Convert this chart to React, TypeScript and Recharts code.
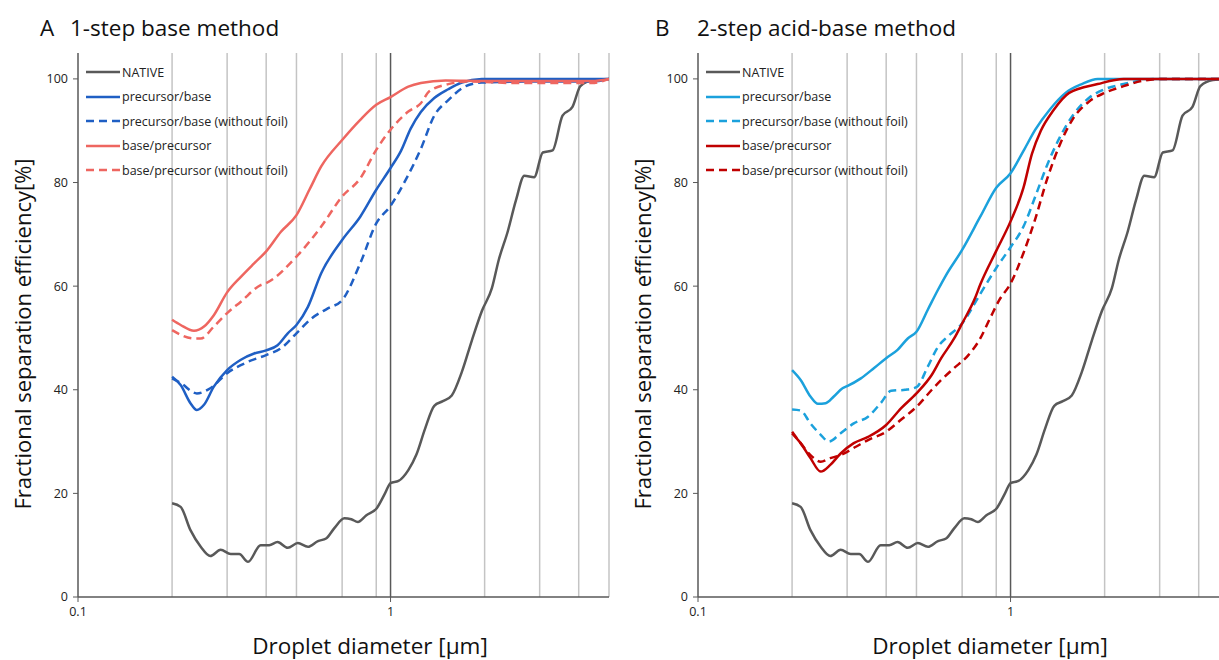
import React from "react";
import {
  LineChart,
  Line,
  XAxis,
  YAxis,
  CartesianGrid,
  ReferenceLine,
} from "recharts";

type Pt = [number, number];

// axis values
const xTicks = [0.1, 1];
const yTicks = [0, 20, 40, 60, 80, 100];
const gridX = [0.2, 0.3, 0.4, 0.5, 0.6, 0.7, 0.8, 0.9, 2, 3, 4, 5];

// droplet diameter [µm], efficiency [%]
const native: Pt[] = [
  [0.2, 18.1], [0.213, 17.4], [0.229, 12.9], [0.247, 9.7], [0.265, 7.9],
  [0.286, 9.1], [0.308, 8.3], [0.328, 8.3], [0.35, 6.8], [0.384, 10.0],
  [0.409, 10.0], [0.435, 10.6], [0.469, 9.5], [0.505, 10.4], [0.544, 9.7],
  [0.586, 10.8], [0.622, 11.3], [0.661, 13.3], [0.712, 15.2], [0.749, 15.0],
  [0.786, 14.5], [0.837, 15.8], [0.902, 17.1], [0.96, 20.0], [1.0, 22.0],
  [1.06, 22.4], [1.14, 24.5], [1.21, 27.5], [1.29, 32.5], [1.38, 36.9],
  [1.47, 37.8], [1.57, 38.9], [1.69, 43.4], [1.82, 49.5], [1.96, 55.2],
  [2.11, 59.6], [2.22, 65.1], [2.37, 70.5], [2.52, 76.6], [2.68, 81.3],
  [2.88, 81.0], [3.07, 85.8], [3.3, 86.2], [3.55, 92.9], [3.82, 94.6],
  [4.05, 98.6], [4.44, 99.8], [5.0, 100],
];

// A: 1-step base method
const precBaseA: Pt[] = [
  [0.2, 42.5], [0.213, 40.9], [0.229, 37.4], [0.24, 36.1], [0.253, 37.1],
  [0.272, 40.6], [0.3, 43.8], [0.332, 45.8], [0.366, 47.0], [0.4, 47.6],
  [0.435, 48.6], [0.469, 50.9], [0.5, 52.5], [0.544, 56.0], [0.6, 62.5],
  [0.7, 68.9], [0.8, 73.4], [0.9, 78.6], [1.0, 82.8], [1.08, 86.1],
  [1.16, 90.4], [1.25, 93.6], [1.38, 96.3], [1.53, 98.0], [1.69, 99.3],
  [1.96, 100], [3, 100], [5, 100],
];
const precBaseNoFoilA: Pt[] = [
  [0.2, 42.2], [0.213, 41.3], [0.24, 39.3], [0.265, 40.3], [0.3, 43.2],
  [0.35, 45.4], [0.4, 46.7], [0.446, 48.0], [0.5, 50.9], [0.56, 53.8],
  [0.63, 55.7], [0.7, 57.3], [0.8, 64.4], [0.9, 72.1], [1.0, 75.5],
  [1.12, 80.6], [1.25, 86.5], [1.38, 92.9], [1.53, 95.9], [1.74, 98.6],
  [1.96, 99.3], [3, 99.5], [4.4, 99.5], [5, 100],
];
const basePrecA: Pt[] = [
  [0.2, 53.5], [0.213, 52.5], [0.235, 51.4], [0.253, 52.2], [0.272, 54.4],
  [0.3, 58.8], [0.332, 61.8], [0.366, 64.4], [0.4, 66.7], [0.446, 70.5],
  [0.5, 73.7], [0.55, 78.6], [0.6, 83.1], [0.7, 88.2], [0.8, 92.1],
  [0.9, 95.0], [1.0, 96.5], [1.14, 98.5], [1.25, 99.2], [1.5, 99.7],
  [2, 99.6], [3, 99.6], [4.4, 99.6], [5, 100],
];
const basePrecNoFoilA: Pt[] = [
  [0.2, 51.5], [0.235, 49.9], [0.247, 49.9], [0.272, 52.2], [0.3, 54.8],
  [0.332, 57.0], [0.384, 60.2], [0.4, 60.6], [0.5, 65.7], [0.6, 71.5],
  [0.7, 77.3], [0.8, 80.8], [0.9, 86.3], [1.0, 90.2], [1.14, 93.7],
  [1.25, 95.3], [1.33, 97.6], [1.53, 99.0], [1.77, 99.5], [2.5, 99.2],
  [4.4, 99.2], [5, 100],
];

// B: 2-step acid-base method
const precBaseB: Pt[] = [
  [0.2, 43.8], [0.213, 41.9], [0.229, 38.7], [0.242, 37.3], [0.256, 37.4],
  [0.272, 38.7], [0.29, 40.3], [0.3, 40.7], [0.332, 42.2], [0.366, 44.2],
  [0.4, 46.1], [0.435, 47.7], [0.469, 49.9], [0.5, 51.2], [0.544, 55.5],
  [0.586, 59.3], [0.62, 62.0], [0.7, 67.0], [0.8, 73.4], [0.9, 79.0],
  [1.0, 81.8], [1.1, 86.1], [1.2, 90.2], [1.34, 94.2], [1.5, 97.3],
  [1.69, 99.0], [1.9, 100], [5, 100],
];
const precBaseNoFoilB: Pt[] = [
  [0.2, 36.2], [0.213, 36.0], [0.229, 33.5], [0.247, 31.3], [0.262, 30.0],
  [0.286, 31.6], [0.315, 33.5], [0.35, 34.8], [0.384, 37.4], [0.415, 39.8],
  [0.46, 40.0], [0.5, 40.5], [0.544, 44.5], [0.586, 48.3], [0.63, 50.3],
  [0.7, 52.8], [0.8, 58.5], [0.9, 63.5], [1.0, 67.5], [1.1, 71.5],
  [1.2, 77.3], [1.31, 83.4], [1.44, 88.8], [1.58, 92.9], [1.78, 96.3],
  [2.0, 98.0], [2.3, 99.0], [2.68, 99.8], [3, 100], [5, 100],
];
const basePrecB: Pt[] = [
  [0.2, 31.6], [0.213, 29.7], [0.229, 26.8], [0.247, 24.2], [0.265, 25.5],
  [0.286, 27.7], [0.315, 29.7], [0.35, 30.9], [0.4, 33.2], [0.446, 36.4],
  [0.5, 39.3], [0.56, 42.9], [0.6, 46.1], [0.66, 49.9], [0.7, 52.8],
  [0.77, 57.7], [0.8, 60.3], [0.9, 66.8], [1.0, 72.5], [1.1, 79.0],
  [1.17, 85.5], [1.25, 90.0], [1.37, 93.9], [1.54, 97.3], [1.9, 99.0],
  [2.3, 100], [5, 100],
];
const basePrecNoFoilB: Pt[] = [
  [0.2, 31.9], [0.213, 29.7], [0.229, 27.4], [0.247, 26.1], [0.265, 26.8],
  [0.286, 27.4], [0.32, 29.0], [0.35, 30.3], [0.4, 31.9], [0.446, 34.2],
  [0.5, 36.7], [0.56, 40.0], [0.6, 41.9], [0.66, 44.2], [0.726, 46.4],
  [0.8, 49.9], [0.86, 53.8], [0.92, 57.3], [1.0, 60.5], [1.1, 66.4],
  [1.2, 73.0], [1.31, 80.7], [1.44, 87.4], [1.58, 92.2], [1.78, 95.6],
  [2.0, 97.3], [2.3, 98.6], [2.68, 99.7], [3, 100], [5, 100],
];

type Series = { name: string; pts: Pt[]; color: string; dashed: boolean };

const GRAY = "#595959";

const seriesA: Series[] = [
  { name: "NATIVE", pts: native, color: GRAY, dashed: false },
  { name: "precursor/base", pts: precBaseA, color: "#1f5fc4", dashed: false },
  { name: "precursor/base (without foil)", pts: precBaseNoFoilA, color: "#1f5fc4", dashed: true },
  { name: "base/precursor", pts: basePrecA, color: "#ee6660", dashed: false },
  { name: "base/precursor (without foil)", pts: basePrecNoFoilA, color: "#ee6660", dashed: true },
];

const seriesB: Series[] = [
  { name: "NATIVE", pts: native, color: GRAY, dashed: false },
  { name: "precursor/base", pts: precBaseB, color: "#1ba1dc", dashed: false },
  { name: "precursor/base (without foil)", pts: precBaseNoFoilB, color: "#1ba1dc", dashed: true },
  { name: "base/precursor", pts: basePrecB, color: "#c00000", dashed: false },
  { name: "base/precursor (without foil)", pts: basePrecNoFoilB, color: "#c00000", dashed: true },
];

const FONT = "'Open Sans', sans-serif";

const LegendBox = ({ series }: { series: Series[] }) => (
  <div
    style={{
      position: "absolute",
      left: 86,
      top: 60,
      fontFamily: FONT,
      fontSize: 12.5,
      color: "#222",
    }}
  >
    {series.map((s) => (
      <div key={s.name} style={{ display: "flex", alignItems: "center", height: 24.5 }}>
        <svg width={34} height={6} style={{ marginRight: 2 }}>
          <line
            x1={0}
            y1={3}
            x2={34}
            y2={3}
            stroke={s.color}
            strokeWidth={2.5}
            strokeDasharray={s.dashed ? "8 5" : undefined}
          />
        </svg>
        <span>{s.name}</span>
      </div>
    ))}
  </div>
);

const Panel = (props: {
  left: number;
  letter: string;
  letterX: number;
  title: string;
  titleX: number;
  series: Series[];
}) => {
  return (
    <div style={{ position: "absolute", left: props.left, top: 0, width: 620, height: 660 }}>
      <div style={{ position: "absolute", left: props.letterX, top: 12, fontSize: 22.5, fontFamily: FONT }}>
        {props.letter}
      </div>
      <div style={{ position: "absolute", left: props.titleX, top: 12, fontSize: 22.5, fontFamily: FONT }}>
        {props.title}
      </div>
      <div
        style={{
          position: "absolute",
          left: 22,
          top: 334,
          transform: "translate(-50%, -50%) rotate(-90deg)",
          whiteSpace: "nowrap",
          fontSize: 22,
          fontFamily: FONT,
        }}
      >
        Fractional separation efficiency[%]
      </div>
      <div
        style={{
          position: "absolute",
          left: 370,
          top: 645,
          transform: "translate(-50%, -50%)",
          whiteSpace: "nowrap",
          fontSize: 22.5,
          fontFamily: FONT,
        }}
      >
        Droplet diameter [µm]
      </div>
      <LineChart
        width={620}
        height={660}
        margin={{ top: 53, right: 11, bottom: 33, left: 18 }}
        style={{ position: "absolute", left: 0, top: 0 }}
      >
        <CartesianGrid
          vertical
          horizontal={false}
          verticalValues={gridX}
          stroke="#c4c4c4"
          strokeWidth={1.5}
        />
        <ReferenceLine x={1} stroke={GRAY} strokeWidth={1.5} />
        <XAxis
          type="number"
          dataKey="x"
          scale="log"
          domain={[0.1, 5]}
          ticks={xTicks}
          allowDataOverflow
          height={30}
          tickSize={5}
          tickMargin={5}
          tick={{ fontSize: 12.5, fill: "#222", fontFamily: FONT }}
          axisLine={{ stroke: GRAY, strokeWidth: 1.5 }}
          tickLine={{ stroke: GRAY }}
          tickFormatter={(v: number) => String(v)}
        />
        <YAxis
          type="number"
          domain={[0, 105]}
          ticks={yTicks}
          width={60}
          tickSize={5}
          tickMargin={5}
          tick={{ fontSize: 12.5, fill: "#222", fontFamily: FONT }}
          axisLine={{ stroke: GRAY, strokeWidth: 1.5 }}
          tickLine={{ stroke: GRAY }}
        />
        {props.series.map((s) => (
          <Line
            key={s.name}
            name={s.name}
            data={s.pts.map(([x, y]) => ({ x, y }))}
            dataKey="y"
            type="monotone"
            stroke={s.color}
            strokeWidth={2.5}
            strokeDasharray={s.dashed ? "8 5" : undefined}
            dot={false}
            activeDot={false}
            isAnimationActive={false}
          />
        ))}
      </LineChart>
      <LegendBox series={props.series} />
    </div>
  );
};

export default function App() {
  return (
    <div
      style={{
        position: "absolute",
        left: 0,
        top: 0,
        width: 1219,
        height: 660,
        overflow: "hidden",
        background: "#fff",
        color: "#111",
      }}
    >
      <Panel left={0} letter="A" letterX={40} title="1-step base method" titleX={70} series={seriesA} />
      <Panel left={620} letter="B" letterX={35} title="2-step acid-base method" titleX={77} series={seriesB} />
    </div>
  );
}
